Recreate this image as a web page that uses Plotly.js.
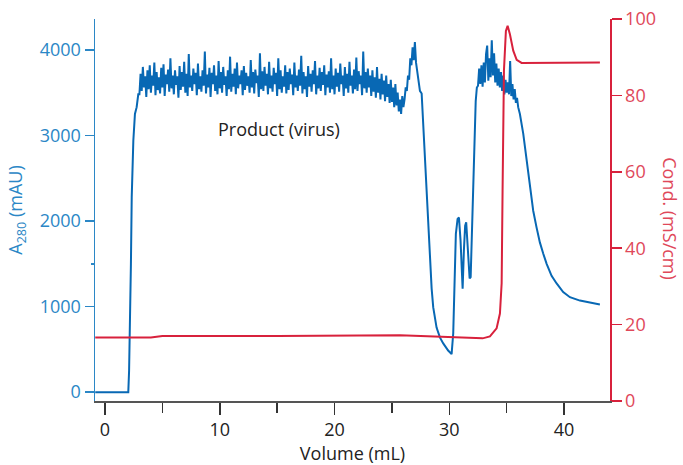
<!DOCTYPE html>
<html>
<head>
<meta charset="utf-8">
<script src="https://cdn.plot.ly/plotly-3.0.1.min.js"></script>
<style>html,body{margin:0;padding:0;background:#fff;}#chart{width:683px;height:465px;}</style>
</head>
<body>
<div id="chart"></div>
<script>
// Volume (mL) for the A280 trace
const volumeA = [
  -0.85, 0.5, 1.5, 2.03, 2.1, 2.18, 2.26, 2.33, 2.4, 2.47, 2.61, 2.76, 2.9,
  3.0, 3.1, 3.2, 3.3, 3.4, 3.5, 3.6, 3.7, 3.8, 3.9,
  4.0, 4.1, 4.2, 4.3, 4.4, 4.5, 4.6, 4.7, 4.8, 4.9,
  5.0, 5.1, 5.2, 5.3, 5.4, 5.5, 5.6, 5.7, 5.8, 5.9,
  6.0, 6.1, 6.2, 6.3, 6.4, 6.5, 6.6, 6.7, 6.8, 6.9,
  7.0, 7.1, 7.2, 7.3, 7.4, 7.5, 7.6, 7.7, 7.8, 7.9,
  8.0, 8.1, 8.2, 8.3, 8.4, 8.5, 8.6, 8.7, 8.8, 8.9,
  9.0, 9.1, 9.2, 9.3, 9.4, 9.5, 9.6, 9.7, 9.8, 9.9,
  10.0, 10.1, 10.2, 10.3, 10.4, 10.5, 10.6, 10.7, 10.8, 10.9,
  11.0, 11.1, 11.2, 11.3, 11.4, 11.5, 11.6, 11.7, 11.8, 11.9,
  12.0, 12.1, 12.2, 12.3, 12.4, 12.5, 12.6, 12.7, 12.8, 12.9,
  13.0, 13.1, 13.2, 13.3, 13.4, 13.5, 13.6, 13.7, 13.8, 13.9,
  14.0, 14.1, 14.2, 14.3, 14.4, 14.5, 14.6, 14.7, 14.8, 14.9,
  15.0, 15.1, 15.2, 15.3, 15.4, 15.5, 15.6, 15.7, 15.8, 15.9,
  16.0, 16.1, 16.2, 16.3, 16.4, 16.5, 16.6, 16.7, 16.8, 16.9,
  17.0, 17.1, 17.2, 17.3, 17.4, 17.5, 17.6, 17.7, 17.8, 17.9,
  18.0, 18.1, 18.2, 18.3, 18.4, 18.5, 18.6, 18.7, 18.8, 18.9,
  19.0, 19.1, 19.2, 19.3, 19.4, 19.5, 19.6, 19.7, 19.8, 19.9,
  20.0, 20.1, 20.2, 20.3, 20.4, 20.5, 20.6, 20.7, 20.8, 20.9,
  21.0, 21.1, 21.2, 21.3, 21.4, 21.5, 21.6, 21.7, 21.8, 21.9,
  22.0, 22.1, 22.2, 22.3, 22.4, 22.5, 22.6, 22.7, 22.8, 22.9,
  23.0, 23.1, 23.2, 23.3, 23.4, 23.5, 23.6, 23.7, 23.8, 23.9,
  24.0, 24.1, 24.2, 24.3, 24.4, 24.5, 24.6, 24.7, 24.8, 24.9,
  25.0, 25.1, 25.2, 25.3, 25.4, 25.5, 25.6, 25.7, 25.8, 25.9,
  26.0, 26.1, 26.2, 26.3, 26.4, 26.5, 26.6, 26.7, 26.8, 26.9,
  27.0, 27.1, 27.2, 27.3, 27.44, 27.59, 27.73, 27.87, 28.02, 28.16,
  28.31, 28.46, 28.6, 28.89, 29.18, 29.47, 29.9, 30.2,
  30.34, 30.46, 30.57, 30.72, 30.84, 30.98, 31.1, 31.16, 31.27, 31.38,
  31.47, 31.62, 31.77, 31.86, 31.94, 32.08, 32.2, 32.3, 32.4,
  32.5, 32.6, 32.7, 32.8, 32.9, 33.0, 33.1, 33.2, 33.3, 33.4,
  33.5, 33.6, 33.7, 33.8, 33.9, 34.0, 34.1, 34.2, 34.3, 34.4,
  34.5, 34.6, 34.7, 34.8, 34.9, 35.0, 35.1, 35.2, 35.3, 35.4,
  35.5, 35.6, 35.7, 35.8, 35.9, 36.0, 36.15, 36.44, 36.73, 37.02,
  37.31, 37.6, 37.89, 38.18, 38.48, 38.91, 39.35, 39.92, 40.51, 41.38,
  42.25, 43.12
];

// A280 absorbance (mAU)
const a280 = [
  0, 0, 0, 0, 250, 720, 1500, 2280, 2650, 2940, 3250, 3330, 3480,
  3480, 3720, 3520, 3800, 3560, 3690, 3450, 3760, 3540, 3820,
  3500, 3700, 3580, 3850, 3470, 3740, 3530, 3680, 3490, 3790,
  3560, 3830, 3460, 3710, 3600, 3770, 3510, 3900, 3550, 3700,
  3480, 3760, 3590, 3690, 3440, 3810, 3530, 3740, 3570, 3860,
  3500, 3720, 3460, 3950, 3560, 3700, 3520, 3780, 3600, 3730,
  3470, 3840, 3540, 3690, 3510, 3760, 3580, 3980, 3490, 3710,
  3560, 3790, 3450, 3730, 3600, 3820, 3520, 3700, 3480, 3870,
  3550, 3740, 3500, 3800, 3590, 3690, 3460, 3760, 3540, 3920,
  3510, 3720, 3570, 3780, 3480, 3850, 3550, 3700, 3600, 3760,
  3470, 3810, 3530, 3730, 3580, 3690, 3500, 3880, 3560, 3740,
  3490, 3770, 3610, 3700, 3450, 3960, 3540, 3750, 3520, 3800,
  3580, 3720, 3480, 3860, 3550, 3700, 3510, 3790, 3600, 3730,
  3460, 3900, 3540, 3760, 3500, 3690, 3570, 3820, 3490, 3740,
  3530, 3780, 3600, 3710, 3470, 3850, 3560, 3700, 3520, 3770,
  3580, 3930, 3490, 3740, 3540, 3690, 3450, 3810, 3570, 3720,
  3510, 3760, 3600, 3870, 3480, 3700, 3550, 3790, 3520, 3740,
  3590, 3820, 3470, 3710, 3560, 3750, 3500, 3900, 3540, 3700,
  3480, 3780, 3570, 3730, 3510, 3840, 3600, 3700, 3460, 3800,
  3550, 3720, 3500, 3860, 3580, 3700, 3490, 3770, 3540, 3910,
  3520, 3750, 3600, 3700, 3470, 3980, 3550, 3740, 3500, 3780,
  3560, 3700, 3460, 3760, 3510, 3680, 3440, 3800, 3500, 3660,
  3420, 3720, 3480, 3640, 3400, 3700, 3450, 3600, 3380, 3650,
  3390, 3560, 3330, 3600, 3350, 3500, 3280, 3420, 3250, 3460,
  3330, 3420, 3560, 3520, 3700, 3650, 3900, 3820, 4030, 3880,
  4090, 3850, 3760, 3620, 3520, 3490, 3100, 2800, 2450, 1950,
  1520, 1210, 990, 755, 640, 570, 487, 445,
  685, 1460, 1850, 2025, 2040, 1770, 1345, 1210, 1655, 1945,
  1985, 1655, 1330, 1345, 1770, 2240, 3000, 3400, 3560,
  3580, 3780, 3600, 3820, 3570, 3850, 3620, 3950, 4050, 3640,
  3900, 3680, 4110, 3700, 3960, 3620, 3840, 3580, 3780, 3560,
  3740, 3520, 3700, 3480, 3650, 3500, 3620, 3480, 3870, 3460,
  3600, 3420, 3540, 3380, 3440, 3330, 3250, 3020, 2705, 2395,
  2120, 1925, 1750, 1620, 1500, 1360, 1270, 1170, 1110, 1070,
  1050, 1025
];

// Volume (mL) for the conductivity trace
const volumeC = [-0.85, 4.0, 5.0, 15.0, 25.7, 28.0, 30.0, 32.9, 33.54, 34.12, 34.41, 34.56,
  34.64, 34.7, 34.76, 34.93, 35.08, 35.28, 35.57, 35.87, 36.3, 43.12];
// Conductivity (mS/cm)
const cond = [16.6, 16.6, 17.0, 17.0, 17.2, 17.0, 16.7, 16.4, 16.9, 19.0, 22.9, 30.8,
  55, 72, 86.5, 96.9, 98.2, 96.0, 91.7, 89.3, 88.5, 88.6];

const xTicks = [0, 10, 20, 30, 40];
const yTicks = [0, 1000, 2000, 3000, 4000];
const y2Ticks = [0, 20, 40, 60, 80, 100];

const FONT = 'Open Sans, Noto Sans, sans-serif';
const BLUE = '#0868b4';
const BLUE_TXT = '#2b87c6';
const RED = '#d8213c';
const RED_TXT = '#e0485a';

const traces = [
  {x: volumeA, y: a280, type: 'scatter', mode: 'lines', yaxis: 'y',
   line: {color: BLUE, width: 2}, hoverinfo: 'skip', showlegend: false},
  {x: volumeC, y: cond, type: 'scatter', mode: 'lines', yaxis: 'y2',
   line: {color: RED, width: 2}, hoverinfo: 'skip', showlegend: false}
];

const layout = {
  width: 683, height: 465,
  margin: {l: 95, r: 73, t: 19, b: 64, pad: 0},
  paper_bgcolor: '#fff', plot_bgcolor: '#fff',
  font: {family: FONT, size: 18, color: '#222'},
  showlegend: false,
  xaxis: {
    range: [-0.87, 44], tickmode: 'array', tickvals: xTicks,
    ticks: 'outside', ticklen: 12, tickwidth: 1.5, tickcolor: '#333',
    minor: {tickmode: 'array', tickvals: [5, 15, 25, 35], ticks: 'outside', ticklen: 10, tickwidth: 1.5, tickcolor: '#333'},
    showline: true, linecolor: '#555', linewidth: 1.5,
    showgrid: false, zeroline: false,
    tickfont: {family: FONT, size: 18, color: '#222'},
    title: {text: 'Volume (mL)', font: {family: FONT, size: 18, color: '#222'}, standoff: 4}
  },
  yaxis: {
    range: [-103, 4360], tickmode: 'array', tickvals: yTicks,
    ticks: 'outside', ticklen: 9, tickwidth: 1.5, tickcolor: BLUE_TXT,
    minor: {tickmode: 'array', tickvals: [1500], ticks: 'outside', ticklen: 3, tickwidth: 1.5, tickcolor: BLUE_TXT},
    showline: true, linecolor: BLUE_TXT, linewidth: 1.5,
    showgrid: false, zeroline: false,
    tickfont: {family: FONT, size: 18, color: BLUE_TXT},
    title: {text: 'A<sub>280</sub> (mAU)', font: {family: FONT, size: 18, color: BLUE_TXT}, standoff: 12}
  },
  yaxis2: {
    overlaying: 'y', side: 'right', anchor: 'x',
    range: [0, 100], tickmode: 'array', tickvals: y2Ticks,
    ticks: 'outside', ticklen: 10, tickwidth: 1.5, tickcolor: RED,
    showline: true, linecolor: RED, linewidth: 1.5,
    showgrid: false, zeroline: false,
    tickfont: {family: FONT, size: 18, color: RED_TXT}
  },
  annotations: [
    {text: 'Product (virus)', x: 15.18, y: 3080, xref: 'x', yref: 'y',
     showarrow: false, font: {family: FONT, size: 18, color: '#222'}},
    {text: 'Cond. (mS/cm)', x: 1.1165, y: 0.476, xref: 'paper', yref: 'paper',
     xanchor: 'center', yanchor: 'middle', textangle: 90, showarrow: false,
     font: {family: FONT, size: 18, color: RED_TXT}}
  ]
};

Plotly.newPlot('chart', traces, layout, {staticPlot: true, displayModeBar: false});
</script>
</body>
</html>
